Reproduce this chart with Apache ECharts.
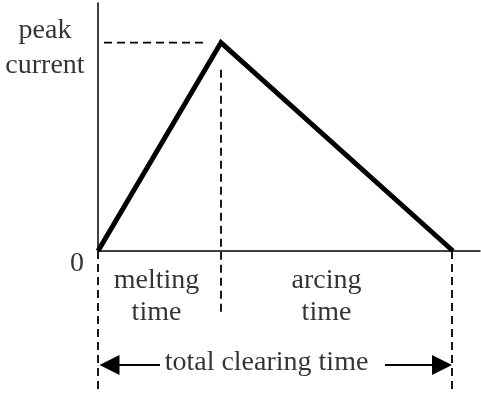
<!DOCTYPE html>
<html>
<head>
<meta charset="utf-8">
<script src="https://cdn.jsdelivr.net/npm/echarts@6/dist/echarts.min.js"></script>
<style>html,body{margin:0;padding:0;background:#fff}#c{width:481px;height:393px}</style>
</head>
<body>
<div id="c"></div>
<script>
// Fuse current vs time (arbitrary units)
const timePoints = [0, 1.23, 3.55];          // start, melting ends (peak), arcing ends
const currentValues = [0, 1, 0];             // zero, peak current, zero
const axisTop = 1.19;
const axisRight = 3.82;

// dashed guide lines (data units)
const peakGuideX = [0.06, 1.05];
const meltGuideY = [0.87, -0.31];
const boundGuideY = [0, -0.667];
const boundGuideX = [0, 3.54];

// clearing-time arrows (end point = centre of arrow head)
const arrowY = -0.547;
const leftArrowX = [0.62, 0.115];
const rightArrowX = [2.87, 3.44];

// text annotations
const labelTexts = ['peak\ncurrent', '0', 'melting\ntime', 'arcing\ntime', 'total clearing time'];
const labelX = [-0.53, -0.21, 0.585, 2.285, 1.685];
const labelY = [0.975, -0.06, -0.22, -0.22, -0.535];

const FONT = '"Liberation Serif", "DejaVu Serif", serif';
const chart = echarts.init(document.getElementById('c'), null, {renderer: 'canvas'});

const dashed = {color: '#000', width: 1.8, type: [8, 5]};
function guide(pts) {
  return {type: 'line', data: pts, symbol: 'none', clip: false, silent: true,
    lineStyle: dashed, animation: false, z: 3};
}

const option = {
  animation: false,
  backgroundColor: '#fff',
  grid: {left: 98, right: 1, top: 3, bottom: 142, containLabel: false},
  xAxis: {
    type: 'value', min: 0, max: axisRight,
    axisLine: {show: true, lineStyle: {color: '#000', width: 1.5}},
    axisTick: {show: false}, axisLabel: {show: false}, splitLine: {show: false}
  },
  yAxis: {
    type: 'value', min: 0, max: axisTop,
    axisLine: {show: true, lineStyle: {color: '#000', width: 1.5}},
    axisTick: {show: false}, axisLabel: {show: false}, splitLine: {show: false}
  },
  series: [
    {
      type: 'line',
      data: timePoints.map((t, i) => [t, currentValues[i]]),
      symbol: 'none', clip: false,
      lineStyle: {color: '#000', width: 5, join: 'miter', cap: 'butt'},
      z: 5
    },
    guide([[peakGuideX[0], currentValues[1]], [peakGuideX[1], currentValues[1]]]),
    guide([[timePoints[1], meltGuideY[0]], [timePoints[1], meltGuideY[1]]]),
    guide([[boundGuideX[0], boundGuideY[0]], [boundGuideX[0], boundGuideY[1]]]),
    guide([[boundGuideX[1], boundGuideY[0]], [boundGuideX[1], boundGuideY[1]]]),
    {
      type: 'lines', coordinateSystem: 'cartesian2d', clip: false, silent: true,
      symbol: ['none', 'triangle'], symbolSize: [12, 20],
      lineStyle: {color: '#000', width: 2, opacity: 1},
      data: [
        {coords: [[leftArrowX[0], arrowY], [leftArrowX[1], arrowY]]},
        {coords: [[rightArrowX[0], arrowY], [rightArrowX[1], arrowY]]}
      ],
      z: 4
    },
    {
      type: 'scatter', clip: false, silent: true,
      symbolSize: 1, itemStyle: {color: 'rgba(0,0,0,0)'},
      data: labelTexts.map((s, i) => ({name: s, value: [labelX[i], labelY[i]],
        label: {lineHeight: i === 0 ? 35 : 32}})),
      label: {
        show: true, position: 'inside', formatter: p => p.name,
        fontFamily: FONT, fontSize: 28, color: '#000', align: 'center', verticalAlign: 'middle'
      },
      z: 6
    }
  ]
};
chart.setOption(option);
</script>
</body>
</html>
